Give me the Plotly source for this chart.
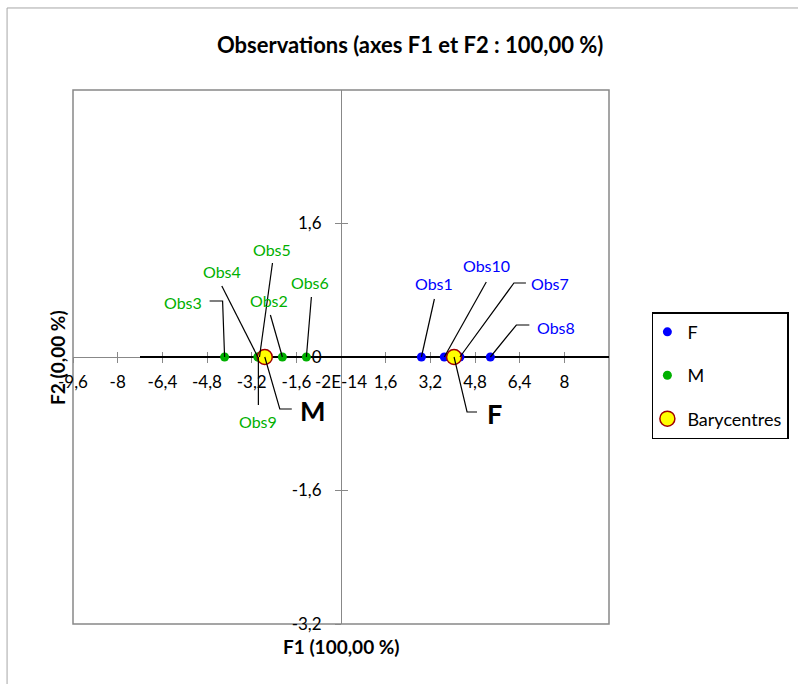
import plotly.graph_objects as go

# ---------------- data ----------------
f_names = ["Obs1", "Obs10", "Obs7", "Obs8"]
f_f1 = [2.88, 3.70, 4.26, 5.35]
f_f2 = [0.0, 0.0, 0.0, 0.0]

m_names = ["Obs3", "Obs4", "Obs9", "Obs5", "Obs2", "Obs6"]
m_f1 = [-4.17, -2.98, -2.96, -2.92, -2.10, -1.24]
m_f2 = [0.0, 0.0, 0.0, 0.0, 0.0, 0.0]

bary_names = ["F", "M"]
bary_f1 = [4.05, -2.73]
bary_f2 = [0.0, 0.0]

axis_line_f1 = [-7.2, 9.6]
axis_line_f2 = [0.0, 0.0]

x_tickvals = [-9.6, -8, -6.4, -4.8, -3.2, -1.6, 0, 1.6, 3.2, 4.8, 6.4, 8]
x_ticktext = ["-9,6", "-8", "-6,4", "-4,8", "-3,2", "-1,6", "-2E-14", "1,6", "3,2", "4,8", "6,4", "8"]
y_tickvals = [-3.2, -1.6, 0, 1.6]
y_ticktext = ["-3,2", "-1,6", "0", "1,6"]

# ---------------- style / label layout (pixel offsets) ----------------
FONT = "Lato"
BLUE = "#0000FF"
GREEN = "#00B000"
GRAY = "#888888"

# name: (leader path in px relative to point (y up), label dx, label dy)
label_layout = {
    "Obs3": ("M 0 0 L -2 56 L -15 56", -42, 55),
    "Obs4": ("M 0 0 L -36 71", -36, 86),
    "Obs9": ("M 0 0 L 0 -48", 0, -64),
    "Obs5": ("M 0 0 L 13 94", 13, 108),
    "Obs2": ("M 0 0 L -12 42", -13, 57),
    "Obs6": ("M 0 0 L 5 60", 4, 75),
    "Obs1": ("M 0 0 L 13 58", 13, 74),
    "Obs10": ("M 0 0 L 42 75", 42, 92),
    "Obs7": ("M 0 0 L 54 74 L 66 74", 90, 74),
    "Obs8": ("M 0 0 L 26 32 L 39 32", 66, 30),
    "F": ("M 0 0 L 13 -55 L 23 -55", 40, -56),
    "M": ("M 0 0 L 15 -52 L 27 -52", 48, -53),
}

fig = go.Figure()

fig.add_trace(go.Scatter(x=axis_line_f1, y=axis_line_f2, mode="lines",
                         line=dict(color="black", width=2),
                         showlegend=False, hoverinfo="skip"))
fig.add_trace(go.Scatter(x=f_f1, y=f_f2, mode="markers", name="F",
                         marker=dict(color=BLUE, size=9), legendgroup="F"))
fig.add_trace(go.Scatter(x=m_f1, y=m_f2, mode="markers", name="M",
                         marker=dict(color=GREEN, size=9), legendgroup="M"))
fig.add_trace(go.Scatter(x=bary_f1, y=bary_f2, mode="markers", name="Barycentres",
                         marker=dict(color="#FFFF00", size=15,
                                     line=dict(color="#A00000", width=1.5)),
                         legendgroup="B"))

shapes = []
annotations = []

def add_label(name, x, y, color, size, bold=False):
    path, dx, dy = label_layout[name]
    shapes.append(dict(type="path", xref="x", yref="y", xsizemode="pixel",
                       ysizemode="pixel", xanchor=x, yanchor=y, path=path,
                       line=dict(color="black", width=1.2), layer="above"))
    txt = f"<b>{name}</b>" if bold else name
    annotations.append(dict(x=x, y=y, xref="x", yref="y", text=txt,
                            showarrow=False, xshift=dx, yshift=dy,
                            font=dict(family=FONT, size=size, color=color)))

for n, xv, yv in zip(f_names, f_f1, f_f2):
    add_label(n, xv, yv, BLUE, 16)
for n, xv, yv in zip(m_names, m_f1, m_f2):
    add_label(n, xv, yv, GREEN, 16)
for n, xv, yv in zip(bary_names, bary_f1, bary_f2):
    add_label(n, xv, yv, "black", 27, bold=True)

# plot frame
shapes.append(dict(type="rect", xref="paper", yref="paper", x0=0, y0=0, x1=1, y1=1,
                   line=dict(color=GRAY, width=1.5), layer="below"))
# outer chart frame
shapes.append(dict(type="rect", xref="paper", yref="paper", x0=-0.123, y0=-0.3,
                   x1=1.5, y1=1.1536, line=dict(color="#A6A6A6", width=1), layer="below"))

# axis titles
annotations.append(dict(x=0.5, y=-0.016, xref="paper", yref="paper", yanchor="top",
                        text="<b>F1 (100,00 %)</b>", showarrow=False,
                        font=dict(family=FONT, size=19, color="black")))
annotations.append(dict(x=-0.03, y=0.5, xref="paper", yref="paper", xanchor="center",
                        text="<b>F2 (0,00 %)</b>", showarrow=False, textangle=-90,
                        font=dict(family=FONT, size=19, color="black")))

common_x = dict(range=[-9.6, 9.6], anchor="free", position=0.5, showgrid=False,
                zeroline=False, tickvals=x_tickvals, ticklen=5, tickcolor=GRAY,
                tickwidth=1, layer="below traces", automargin=False)
common_y = dict(range=[-3.2, 3.2], anchor="free", position=0.5, showgrid=False,
                zeroline=False, tickvals=y_tickvals, ticklen=6, tickcolor=GRAY,
                tickwidth=1, layer="below traces", automargin=False)

fig.update_layout(
    width=798, height=684,
    paper_bgcolor="white", plot_bgcolor="white",
    margin=dict(l=73, r=189, t=90, b=60, autoexpand=False),
    title=dict(text="<b>Observations (axes F1 et F2 : 100,00 %)</b>",
               x=0.514, xanchor="center", y=0.934, yanchor="middle",
               xref="container", yref="container",
               font=dict(family=FONT, size=22, color="black")),
    xaxis=dict(**common_x, ticktext=x_ticktext, ticks="outside", showline=True,
               linecolor=GRAY, linewidth=1, ticklabelstandoff=5,
               tickfont=dict(family=FONT, size=17, color="black")),
    xaxis2=dict(**common_x, overlaying="x", matches="x", ticks="inside",
                showticklabels=False, showline=False),
    yaxis=dict(**common_y, ticktext=y_ticktext, ticks="outside", showline=True,
               linecolor=GRAY, linewidth=1, ticklabelstandoff=10,
               tickfont=dict(family=FONT, size=17, color="black")),
    yaxis2=dict(**common_y, overlaying="y", matches="y", ticks="inside",
                showticklabels=False, showline=False),
    legend=dict(x=1.08, y=0.584, xanchor="left", yanchor="top",
                bordercolor="black", borderwidth=1.5, bgcolor="white",
                tracegroupgap=17, indentation=-6,
                font=dict(family=FONT, size=18, color="black")),
    shapes=shapes,
    annotations=annotations,
    showlegend=True,
)

# invisible trace so the overlay axes are drawn
fig.add_trace(go.Scatter(x=[None], y=[None], xaxis="x2", yaxis="y2",
                         showlegend=False, hoverinfo="skip"))

fig.write_html("out.html", config={"displayModeBar": False},
               post_script="document.body.style.margin='0';document.body.style.overflow='hidden';")
